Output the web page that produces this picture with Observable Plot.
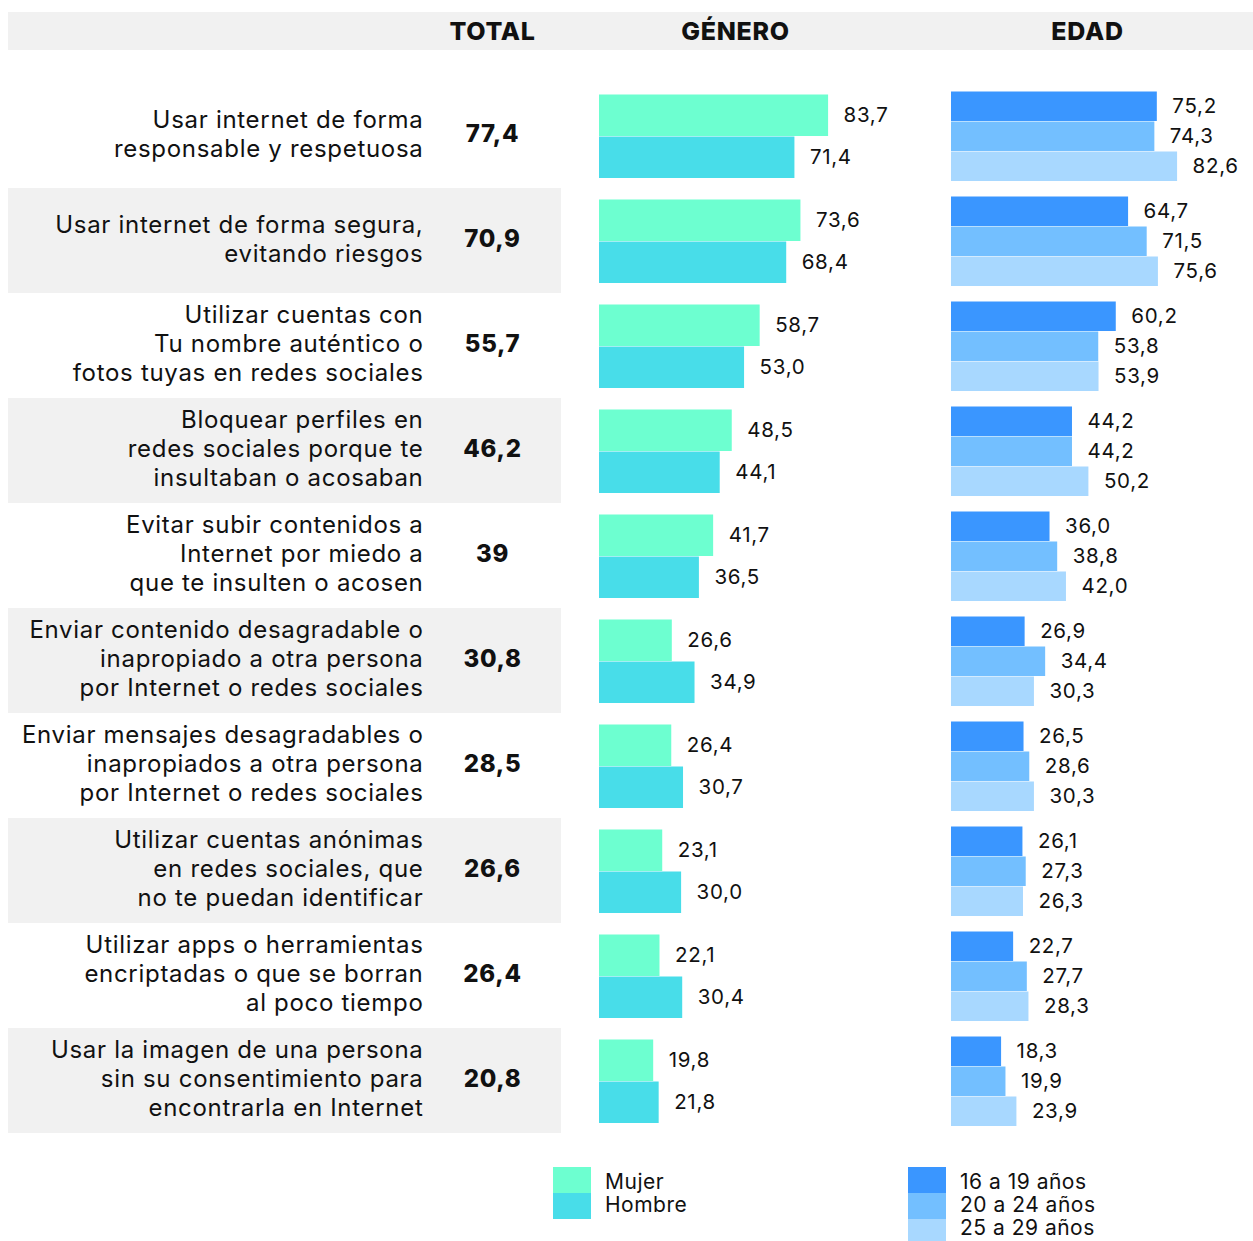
<!DOCTYPE html>
<html>
<head>
<meta charset="utf-8">
<script src="https://cdn.jsdelivr.net/npm/d3@7"></script>
<script src="https://cdn.jsdelivr.net/npm/@observablehq/plot@0.6"></script>
<style>
  html, body { margin: 0; padding: 0; background: #fff; }
  #wrap { width: 1253px; font-family: Inter, "Noto Sans", sans-serif; color: #111; }
  #legend { position: relative; width: 1253px; height: 91px; overflow: hidden; }
  .sw { position: absolute; width: 38px; height: 26px; }
  .lt { position: absolute; font-size: 21px; line-height: 18px; letter-spacing: 0.5px; color: #111; }
</style>
</head>
<body>
<div id="wrap"></div>
<script>
// ---- data ----
const categories = [
  "Usar internet de forma\nresponsable y respetuosa",
  "Usar internet de forma segura,\nevitando riesgos",
  "Utilizar cuentas con\nTu nombre auténtico o\nfotos tuyas en redes sociales",
  "Bloquear perfiles en\nredes sociales porque te\ninsultaban o acosaban",
  "Evitar subir contenidos a\nInternet por miedo a\nque te insulten o acosen",
  "Enviar contenido desagradable o\ninapropiado a otra persona\npor Internet o redes sociales",
  "Enviar mensajes desagradables o\ninapropiados a otra persona\npor Internet o redes sociales",
  "Utilizar cuentas anónimas\nen redes sociales, que\nno te puedan identificar",
  "Utilizar apps o herramientas\nencriptadas o que se borran\nal poco tiempo",
  "Usar la imagen de una persona\nsin su consentimiento para\nencontrarla en Internet"
];
const total   = [77.4, 70.9, 55.7, 46.2, 39, 30.8, 28.5, 26.6, 26.4, 20.8];
const mujer   = [83.7, 73.6, 58.7, 48.5, 41.7, 26.6, 26.4, 23.1, 22.1, 19.8];
const hombre  = [71.4, 68.4, 53.0, 44.1, 36.5, 34.9, 30.7, 30.0, 30.4, 21.8];
const edad1619 = [75.2, 64.7, 60.2, 44.2, 36.0, 26.9, 26.5, 26.1, 22.7, 18.3];
const edad2024 = [74.3, 71.5, 53.8, 44.2, 38.8, 34.4, 28.6, 27.3, 27.7, 19.9];
const edad2529 = [82.6, 75.6, 53.9, 50.2, 42.0, 30.3, 30.3, 26.3, 28.3, 23.9];
const headers = ["TOTAL", "GÉNERO", "EDAD"];
const genderSeries = ["Mujer", "Hombre"];
const ageSeries = ["16 a 19 años", "20 a 24 años", "25 a 29 años"];

// ---- styles / layout ----
const C = {
  mujer: "#6dffd0", hombre: "#48dde9",
  a1: "#3a96ff", a2: "#73bfff", a3: "#a8d8ff",
  gray: "#f1f1f1", text: "#111"
};
const W = 1253, H = 1150;
const PX = 2.737;      // pixels per percentage point
const X0 = 599;        // left edge of gender bars
const AGE_DX = 352;    // offset of age panel
const u = px => (px - X0) / PX;
const ROW = 105.5;

const rows = categories.map((c, i) => ({
  cat: c, i, total: total[i], mujer: mujer[i], hombre: hombre[i],
  a1: edad1619[i], a2: edad2024[i], a3: edad2529[i]
}));
const grayRows = rows.filter(d => d.i % 2 === 1);
const fmt1 = v => v.toFixed(1).replace(".", ",");
const fmtT = v => String(v).replace(".", ",");

const gTop = 11.5, gH = 42, aTop = 8.5, aH = 30;
const barOpts = (top, h) => ({insetTop: top, insetBottom: ROW - top - h});
const lblDy = (top, h) => top + h / 2 - ROW / 2;

const headerX = [492, 735, 1087];

const chart = Plot.plot({
  width: W, height: H,
  marginTop: 0, marginBottom: 0, marginLeft: 0, marginRight: 0,
  style: {fontFamily: "Inter, 'Noto Sans', sans-serif", background: "transparent", color: C.text, letterSpacing: "0.7px"},
  x: {domain: [u(0), u(W)], axis: null},
  y: {type: "band", domain: categories, range: [80, 80 + ROW * 10], padding: 0, axis: null},
  marks: [
    // header band
    Plot.rect([0], {x1: u(8), x2: u(W), insetTop: 12, insetBottom: H - 50, fill: C.gray}),
    ...headers.map((h, k) => Plot.text([h], {text: d => d, frameAnchor: "top-left", lineAnchor: "middle", dx: headerX[k], dy: 31, fontWeight: 800, fontSize: 25, textAnchor: "middle", fill: C.text})),
    // alternating row backgrounds
    Plot.barX(grayRows, {y: "cat", x1: u(8), x2: u(561), fill: C.gray}),
    // category labels
    Plot.text(rows, {y: "cat", text: "cat", frameAnchor: "left", dx: 423, dy: -3, textAnchor: "end", lineHeight: 1.21, fontSize: 24, fill: C.text, style: "letter-spacing:0.25px"}),
    // totals
    Plot.text(rows, {y: "cat", text: d => fmtT(d.total), frameAnchor: "left", dx: 492, dy: -2, textAnchor: "middle", fontWeight: 800, fontSize: 24, fill: C.text}),
    // gender bars
    Plot.barX(rows, {y: "cat", x1: 0, x2: "mujer", fill: C.mujer, ...barOpts(gTop, gH)}),
    Plot.barX(rows, {y: "cat", x1: 0, x2: "hombre", fill: C.hombre, ...barOpts(gTop + gH, gH)}),
    Plot.text(rows, {y: "cat", x: "mujer", text: d => fmt1(d.mujer), textAnchor: "start", dx: 15, dy: lblDy(gTop, gH), fontSize: 20.5, fill: C.text}),
    Plot.text(rows, {y: "cat", x: "hombre", text: d => fmt1(d.hombre), textAnchor: "start", dx: 15, dy: lblDy(gTop + gH, gH), fontSize: 20.5, fill: C.text}),
    // age bars
    Plot.barX(rows, {y: "cat", x1: 0, x2: "a1", dx: AGE_DX, fill: C.a1, ...barOpts(aTop, aH)}),
    Plot.barX(rows, {y: "cat", x1: 0, x2: "a2", dx: AGE_DX, fill: C.a2, ...barOpts(aTop + aH, aH)}),
    Plot.barX(rows, {y: "cat", x1: 0, x2: "a3", dx: AGE_DX, fill: C.a3, ...barOpts(aTop + 2 * aH, aH)}),
    Plot.text(rows, {y: "cat", x: "a1", text: d => fmt1(d.a1), textAnchor: "start", dx: AGE_DX + 15, dy: lblDy(aTop, aH), fontSize: 20.5, fill: C.text}),
    Plot.text(rows, {y: "cat", x: "a2", text: d => fmt1(d.a2), textAnchor: "start", dx: AGE_DX + 15, dy: lblDy(aTop + aH, aH), fontSize: 20.5, fill: C.text}),
    Plot.text(rows, {y: "cat", x: "a3", text: d => fmt1(d.a3), textAnchor: "start", dx: AGE_DX + 15, dy: lblDy(aTop + 2 * aH, aH), fontSize: 20.5, fill: C.text})
  ]
});

const wrap = document.getElementById("wrap");
wrap.appendChild(chart);

// legend
const legend = document.createElement("div");
legend.id = "legend";
const gCols = [C.mujer, C.hombre], aCols = [C.a1, C.a2, C.a3];
const textTops = [23, 46, 69];
let html = "";
genderSeries.forEach((s, k) => {
  html += `<div class="sw" style="left:553px;top:${17 + 26 * k}px;background:${gCols[k]}"></div>`;
  html += `<div class="lt" style="left:605px;top:${textTops[k]}px">${s}</div>`;
});
ageSeries.forEach((s, k) => {
  html += `<div class="sw" style="left:908px;top:${17 + 26 * k}px;background:${aCols[k]}"></div>`;
  html += `<div class="lt" style="left:960px;top:${textTops[k]}px">${s}</div>`;
});
legend.innerHTML = html;
wrap.appendChild(legend);
</script>
</body>
</html>
